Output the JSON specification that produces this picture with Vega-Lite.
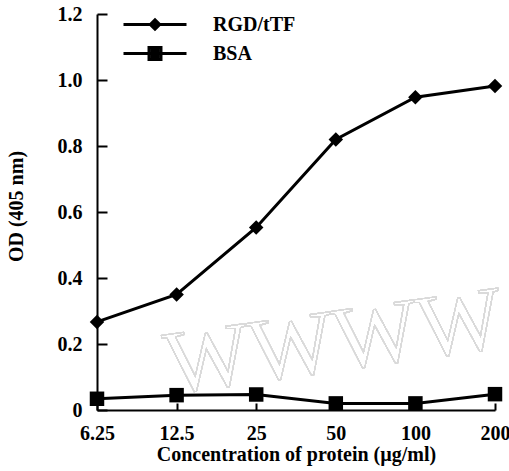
{
  "$schema": "https://vega.github.io/schema/vega-lite/v6.json",
  "autosize": "none",
  "width": 398,
  "height": 396,
  "padding": {"left": 97, "top": 14, "right": 14, "bottom": 61},
  "background": "white",
  "config": {
    "view": {"stroke": null},
    "font": "Liberation Serif",
    "axis": {
      "labelFont": "Liberation Serif",
      "labelFontWeight": "bold",
      "labelFontSize": 20,
      "labelColor": "black",
      "titleFont": "Liberation Serif",
      "titleFontWeight": "bold",
      "titleFontSize": 20,
      "titleColor": "black",
      "domainColor": "black",
      "domainWidth": 2,
      "tickColor": "black",
      "tickWidth": 2,
      "grid": false
    }
  },
  "data": {
    "values": [
      {"conc": "6.25", "series": "RGD/tTF", "od": 0.267},
      {"conc": "12.5", "series": "RGD/tTF", "od": 0.35},
      {"conc": "25", "series": "RGD/tTF", "od": 0.553},
      {"conc": "50", "series": "RGD/tTF", "od": 0.82},
      {"conc": "100", "series": "RGD/tTF", "od": 0.948},
      {"conc": "200", "series": "RGD/tTF", "od": 0.982},
      {"conc": "6.25", "series": "BSA", "od": 0.034},
      {"conc": "12.5", "series": "BSA", "od": 0.045},
      {"conc": "25", "series": "BSA", "od": 0.047},
      {"conc": "50", "series": "BSA", "od": 0.02},
      {"conc": "100", "series": "BSA", "od": 0.02},
      {"conc": "200", "series": "BSA", "od": 0.048}
    ]
  },
  "encoding": {
    "x": {
      "field": "conc",
      "type": "ordinal",
      "sort": ["6.25", "12.5", "25", "50", "100", "200"],
      "scale": {"type": "point", "padding": 0},
      "axis": {
        "title": "Concentration of protein (µg/ml)",
        "labelAngle": 0,
        "tickSize": -7,
        "labelPadding": 20,
        "titlePadding": 1
      }
    },
    "y": {
      "field": "od",
      "type": "quantitative",
      "scale": {"domain": [0, 1.2], "nice": false, "zero": true},
      "axis": {
        "title": "OD (405 nm)",
        "titleY": 192,
        "values": [0, 0.2, 0.4, 0.6, 0.8, 1.0, 1.2],
        "labelExpr": "datum.value == 0 ? '0' : format(datum.value, '.1f')",
        "tickSize": -10,
        "labelPadding": 25,
        "titlePadding": 31
      }
    }
  },
  "layer": [
    {
      "mark": {"type": "text", "text": "WWWW", "font": "Liberation Serif", "fontSize": 90, "fill": null, "stroke": "#dadada", "strokeWidth": 1, "angle": -8, "align": "center", "baseline": "alphabetic", "dx": 2},
      "encoding": {
        "x": {"datum": "50"},
        "y": {"datum": 0.12}
      }
    },
    {
      "mark": {"type": "line", "color": "black", "strokeWidth": 3},
      "encoding": {"detail": {"field": "series"}}
    },
    {
      "mark": {"type": "point", "filled": true, "color": "black", "opacity": 1, "size": 210},
      "encoding": {
        "shape": {
          "field": "series",
          "type": "nominal",
          "scale": {"domain": ["RGD/tTF", "BSA"], "range": ["diamond", "square"]},
          "legend": null
        }
      }
    },
    {
      "transform": [{"filter": "datum.od < -1"}],
      "mark": {"type": "point", "filled": false, "color": "black", "strokeWidth": 3, "opacity": 1},
      "encoding": {
        "shape": {
          "field": "series",
          "type": "nominal",
          "scale": {
            "domain": ["RGD/tTF", "BSA"],
            "range": [
              "M-3,0L3,0M-0.45,0L0,-0.45L0.45,0L0,0.45ZM-0.2,0L0,-0.2L0.2,0L0,0.2Z",
              "M-3,0L3,0M-0.57,-0.57L0.57,-0.57L0.57,0.57L-0.57,0.57ZM-0.28,-0.28L0.28,-0.28L0.28,0.28L-0.28,0.28ZM-0.05,-0.05L0.05,-0.05L0.05,0.05L-0.05,0.05Z"
            ]
          },
          "legend": {
            "title": null,
            "orient": "none",
            "legendX": 25,
            "legendY": -1.5,
            "symbolSize": 441,
            "symbolOffset": 21,
            "rowPadding": 6,
            "labelOffset": 46,
            "labelFont": "Liberation Serif",
            "labelFontWeight": "bold",
            "labelFontSize": 20,
            "labelColor": "black",
            "symbolStrokeColor": "black",
            "symbolStrokeWidth": 3,
            "symbolOpacity": 1
          }
        }
      }
    }
  ],
  "resolve": {"scale": {"shape": "independent"}, "legend": {"shape": "independent"}}
}
